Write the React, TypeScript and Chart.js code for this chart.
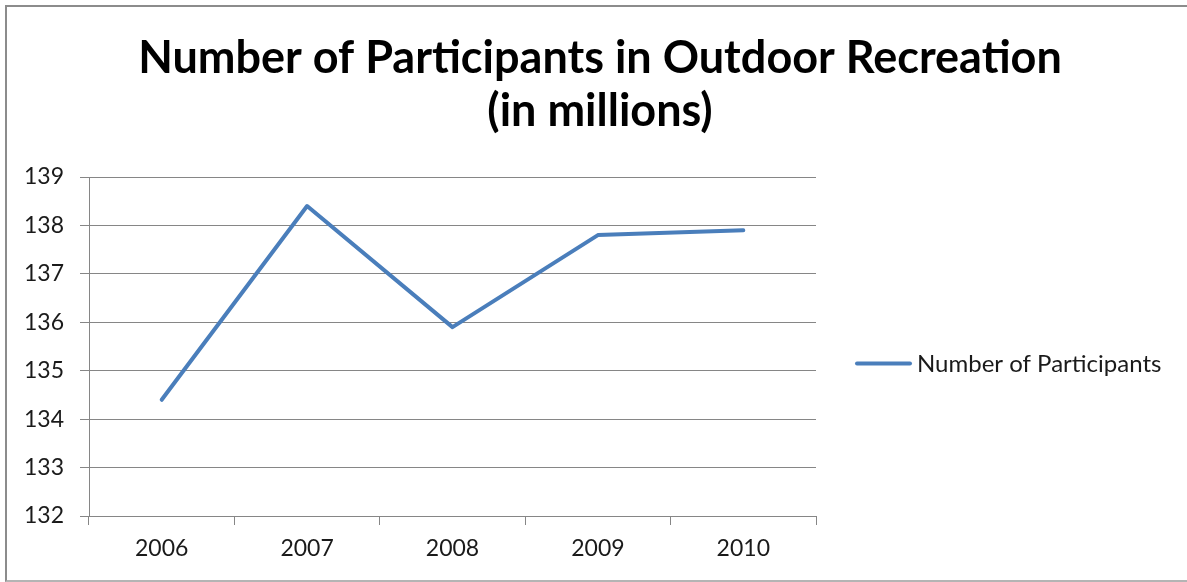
import React, { useEffect, useRef } from "react";
import { Chart, registerables } from "chart.js";

Chart.register(...registerables);

const TITLE_LINES = ["Number of Participants in Outdoor Recreation", "(in millions)"];
const YEARS = ["2006", "2007", "2008", "2009", "2010"];
const PARTICIPANTS = [134.4, 138.4, 135.9, 137.8, 137.9];
const SERIES_LABEL = "Number of Participants";
const Y_MIN = 132;
const Y_MAX = 139;
const Y_STEP = 1;

const LINE_COLOR = "#4A7EBB";
const GRID_COLOR = "#868686";
const TEXT_COLOR = "#1a1a1a";
const FONT = "Lato, 'DejaVu Sans', sans-serif";

const sideLegend = {
  id: "sideLegend",
  afterDraw(chart: any) {
    const { ctx, chartArea } = chart;
    const ds = chart.data.datasets[0];
    const x0 = chartArea.right + 41;
    const y = (chartArea.top + chartArea.bottom) / 2 + 17;
    ctx.save();
    ctx.strokeStyle = ds.borderColor;
    ctx.lineWidth = 4;
    ctx.lineCap = "round";
    ctx.beginPath();
    ctx.moveTo(x0, y);
    ctx.lineTo(x0 + 53, y);
    ctx.stroke();
    ctx.fillStyle = TEXT_COLOR;
    ctx.font = `24px ${FONT}`;
    ctx.textBaseline = "middle";
    ctx.textAlign = "left";
    ctx.fillText(ds.label, x0 + 60, y + 1);
    ctx.restore();
  },
};

export default function App() {
  const canvasRef = useRef<HTMLCanvasElement | null>(null);

  useEffect(() => {
    const canvas = canvasRef.current;
    if (!canvas) return;
    const chart = new Chart(canvas, {
      type: "line",
      data: {
        labels: YEARS,
        datasets: [
          {
            label: SERIES_LABEL,
            data: PARTICIPANTS,
            borderColor: LINE_COLOR,
            backgroundColor: LINE_COLOR,
            borderWidth: 4,
            borderCapStyle: "round",
            borderJoinStyle: "round",
            pointRadius: 0,
            pointHoverRadius: 0,
            tension: 0,
            fill: false,
          },
        ],
      },
      options: {
        animation: false,
        responsive: false,
        maintainAspectRatio: false,
        layout: { padding: 0 },
        plugins: {
          legend: { display: false },
          tooltip: { enabled: false },
          title: {
            display: true,
            text: TITLE_LINES,
            color: "#000",
            font: { family: FONT, size: 45, weight: "bold", lineHeight: "53px" },
            padding: { top: 25, bottom: 39 },
          },
        },
        scales: {
          x: {
            type: "category",
            offset: true,
            grid: {
              offset: true,
              drawOnChartArea: false,
              drawTicks: true,
              tickLength: 9,
              color: GRID_COLOR,
              lineWidth: 1,
            },
            border: { display: true, color: GRID_COLOR, width: 1 },
            ticks: {
              color: TEXT_COLOR,
              font: { family: FONT, size: 23 },
              padding: 10,
              maxRotation: 0,
            },
            afterFit(scale: any) {
              scale.height = 64;
            },
          },
          y: {
            type: "linear",
            min: Y_MIN,
            max: Y_MAX,
            grid: {
              color: GRID_COLOR,
              lineWidth: 1,
              drawTicks: true,
              tickLength: 9,
            },
            border: { display: true, color: GRID_COLOR, width: 1 },
            ticks: {
              stepSize: Y_STEP,
              color: TEXT_COLOR,
              font: { family: FONT, size: 23 },
              padding: 16,
            },
            afterFit(scale: any) {
              scale.width = 82;
            },
          },
          side: {
            type: "linear",
            position: "right",
            display: true,
            grid: { display: false, drawTicks: false },
            border: { display: false },
            ticks: { display: false },
            afterFit(scale: any) {
              scale.width = 377;
            },
          },
        },
      },
      plugins: [sideLegend],
    });
    return () => chart.destroy();
  }, []);

  return (
    <div
      style={{
        position: "fixed",
        left: 0,
        top: 0,
        width: 1187,
        height: 582,
        overflow: "hidden",
        background: "#fff",
      }}
    >
      <div
        style={{
          position: "absolute",
          left: 5,
          top: 5,
          width: 1200,
          height: 573,
          borderLeft: "2px solid #8c8c8c",
          borderTop: "2px solid #8c8c8c",
          borderBottom: "2px solid #b4b4b4",
          background: "#fff",
        }}
      >
        <canvas ref={canvasRef} width={1186} height={573} style={{ display: "block" }} />
      </div>
    </div>
  );
}
